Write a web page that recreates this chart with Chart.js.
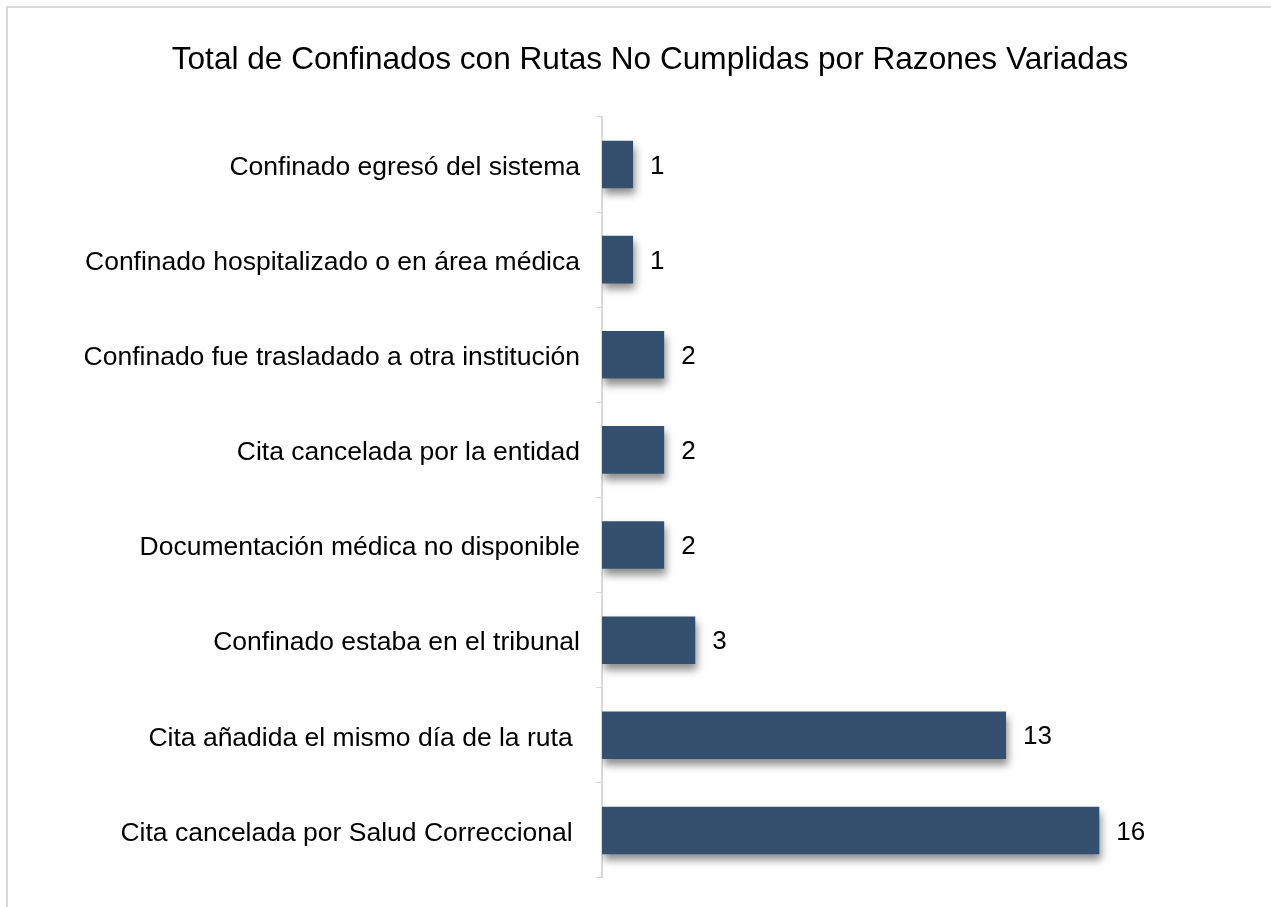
<!DOCTYPE html>
<html>
<head>
<meta charset="utf-8">
<script src="https://cdn.jsdelivr.net/npm/chart.js@4.4.1/dist/chart.umd.min.js"></script>
<style>
html,body{margin:0;padding:0;background:#fff;overflow:hidden;width:1271px;height:907px;}
#frame{position:absolute;left:6px;top:6px;width:1300px;height:930px;border:2px solid #d9d9d9;box-sizing:border-box;background:#fff;}
#wrap{position:absolute;left:0;top:0;width:1284px;height:916px;}
</style>
</head>
<body>
<div id="frame"><div id="wrap"><canvas id="c"></canvas></div></div>
<script>
const titleText = 'Total de Confinados con Rutas No Cumplidas por Razones Variadas';
const categories = [
  'Confinado egresó del sistema',
  'Confinado hospitalizado o en área médica',
  'Confinado fue trasladado a otra institución',
  'Cita cancelada por la entidad',
  'Documentación médica no disponible',
  'Confinado estaba en el tribunal',
  'Cita añadida el mismo día de la ruta ',
  'Cita cancelada por Salud Correccional '
];
const values = [1, 1, 2, 2, 2, 3, 13, 16];

const FONT = '"Liberation Sans", Arial, sans-serif';

const shadowPlugin = {
  id: 'barShadow',
  beforeDatasetDraw(chart) {
    const ctx = chart.ctx;
    ctx.save();
    ctx.shadowColor = 'rgba(0,0,0,0.45)';
    ctx.shadowBlur = 8;
    ctx.shadowOffsetX = 2;
    ctx.shadowOffsetY = 6;
  },
  afterDatasetDraw(chart) {
    chart.ctx.restore();
  }
};

const labelPlugin = {
  id: 'valueLabels',
  afterDatasetsDraw(chart) {
    const ctx = chart.ctx;
    const meta = chart.getDatasetMeta(0);
    ctx.save();
    ctx.font = '26px ' + FONT;
    ctx.fillStyle = '#000';
    ctx.textBaseline = 'middle';
    ctx.textAlign = 'left';
    meta.data.forEach((bar, i) => {
      ctx.fillText(String(values[i]), bar.x + 17, bar.y + 2);
    });
    ctx.restore();
  }
};

new Chart(document.getElementById('c'), {
  type: 'bar',
  data: {
    labels: categories,
    datasets: [{
      data: values,
      backgroundColor: '#35506e',
      borderWidth: 0,
      categoryPercentage: 1.0,
      barPercentage: 0.5
    }]
  },
  options: {
    indexAxis: 'y',
    responsive: true,
    maintainAspectRatio: false,
    animation: false,
    layout: { padding: { left: 0, right: 0, top: 14, bottom: 46 } },
    plugins: {
      legend: { display: false },
      tooltip: { enabled: false },
      title: {
        display: true,
        text: titleText,
        color: '#000',
        font: { family: FONT, size: 31.6, weight: 'normal' },
        padding: { top: 19, bottom: 38 }
      }
    },
    scales: {
      x: {
        display: false,
        min: 0,
        max: 22.2
      },
      y: {
        afterFit(scale) { scale.width = 594; },
        grid: {
          display: true,
          drawOnChartArea: false,
          drawTicks: true,
          tickLength: 6,
          color: '#d9d9d9',
          offset: true
        },
        border: { display: true, color: '#d9d9d9', width: 2 },
        ticks: {
          color: '#000',
          padding: 16,
          labelOffset: 3,
          font: { family: FONT, size: 26.5 }
        }
      }
    }
  },
  plugins: [shadowPlugin, labelPlugin]
});
</script>
</body>
</html>
